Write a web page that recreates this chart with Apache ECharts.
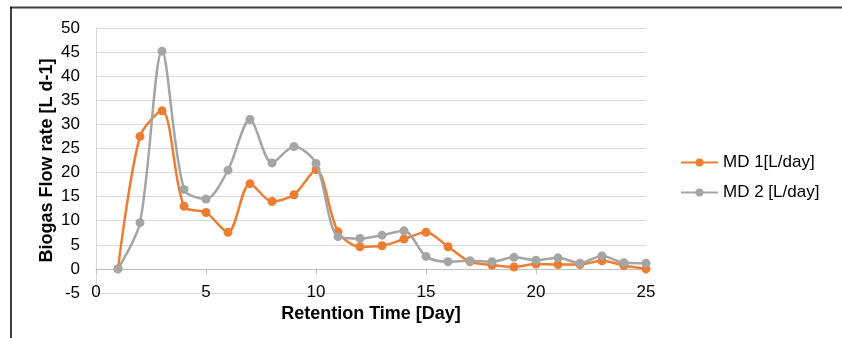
<!DOCTYPE html>
<html>
<head>
<meta charset="utf-8">
<script src="https://cdn.jsdelivr.net/npm/echarts@6/dist/echarts.min.js"></script>
<style>html,body{margin:0;padding:0;background:#fff;}#c{width:842px;height:338px;}</style>
</head>
<body>
<div id="c"></div>
<script>
const days = [1,2,3,4,5,6,7,8,9,10,11,12,13,14,15,16,17,18,19,20,21,22,23,24,25];
const md1 = [0,27.5,32.8,13,11.7,7.6,17.7,14,15.4,20.6,7.7,4.6,4.8,6.2,7.6,4.6,1.5,0.8,0.4,1.0,0.9,0.9,1.7,0.7,0];
const md2 = [0,9.6,45.2,16.5,14.5,20.5,31,22,25.4,21.9,6.7,6.3,7,7.9,2.6,1.5,1.7,1.5,2.4,1.8,2.3,1.2,2.7,1.3,1.2];
const xTicks = {min:0, max:25, interval:5};
const yTicks = {min:-5, max:50, interval:5};
const seriesNames = ['MD 1[L/day]','MD 2 [L/day]'];

const chart = echarts.init(document.getElementById('c'), null, {renderer:'canvas'});
const font = 'Liberation Sans, Arial, sans-serif';
function pairs(v){ return days.map((d,i)=>[d,v[i]]); }
chart.setOption({
  animation:false,
  backgroundColor:'#fff',
  textStyle:{fontFamily:font},
  grid:{left:96,right:196,top:28,bottom:45,containLabel:false,outerBoundsMode:'none'},
  legend:{
    orient:'vertical', left:675, top:149, itemWidth:37, itemHeight:10, itemGap:13,
    textStyle:{fontSize:17,color:'#000',fontFamily:font},
    data:seriesNames
  },
  xAxis:{
    type:'value', min:xTicks.min, max:xTicks.max, interval:xTicks.interval,
    name:'Retention Time [Day]', nameLocation:'middle', nameGap:12, nameMoveOverlap:false,
    nameTextStyle:{fontSize:18,fontWeight:'bold',color:'#000',fontFamily:font},
    axisLine:{show:true,onZero:true,lineStyle:{color:'#bfbfbf',width:1}},
    axisTick:{show:true,length:5,lineStyle:{color:'#bfbfbf'}},
    axisLabel:{fontSize:17,color:'#000',margin:-9,fontFamily:font},
    splitLine:{show:false}
  },
  yAxis:{
    type:'value', min:yTicks.min, max:yTicks.max, interval:yTicks.interval,
    name:'Biogas Flow rate [L d-1]', nameLocation:'middle', nameGap:40, nameMoveOverlap:false,
    nameTextStyle:{fontSize:18,fontWeight:'bold',color:'#000',fontFamily:font},
    axisLine:{show:true,lineStyle:{color:'#d9d9d9',width:1}},
    axisTick:{show:false},
    axisLabel:{fontSize:17,color:'#000',margin:16,fontFamily:font},
    splitLine:{show:true,lineStyle:{color:'#d9d9d9',width:1}}
  },
  series:[
    {name:seriesNames[0], type:'line', data:pairs(md1), smooth:0.3, symbol:'circle', symbolSize:9,
     lineStyle:{color:'#ED7D31',width:2.5}, itemStyle:{color:'#ED7D31'}, z:3},
    {name:seriesNames[1], type:'line', data:pairs(md2), smooth:0.3, symbol:'circle', symbolSize:9,
     lineStyle:{color:'#A5A5A5',width:2.5}, itemStyle:{color:'#A5A5A5'}, z:4}
  ],
  graphic:[
    {type:'line', shape:{x1:10,y1:7.5,x2:842,y2:7.5}, style:{stroke:'#404040',lineWidth:2}},
    {type:'line', shape:{x1:11,y1:7,x2:11,y2:338}, style:{stroke:'#000',lineWidth:1.5}}
  ]
});
</script>
</body>
</html>
